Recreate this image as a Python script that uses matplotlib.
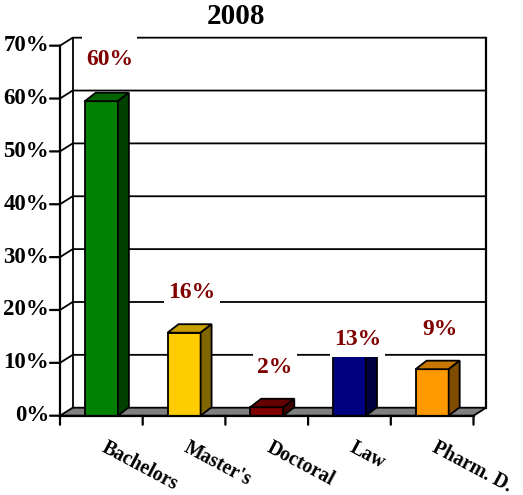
import matplotlib
matplotlib.use("Agg")
import matplotlib.pyplot as plt
from matplotlib.patches import Polygon
from matplotlib.path import Path
import matplotlib.transforms as mtrans
from functools import partial

# data
categories = ["Bachelors", "Master's", "Doctoral", "Law", "Pharm. D."]
values = [59.5, 15.7, 1.6, 13.0, 8.8]
value_labels = ["60%", "16%", "2%", "13%", "9%"]
label_offsets = [7.9, 7.7, 7.6, 1.4, 7.6]   # how far above the bar the label sits (in %)
label_pady = [0.62, 0.3, 0.3, 0.3, 0.3]
front_colors = ["#008000", "#FFCC00", "#800000", "#000080", "#FF9900"]
yticks = [0, 10, 20, 30, 40, 50, 60, 70]
title = "2008"

# layout params (pixels in a 523x495 picture)
W, H = 523, 495
px_x = 82.7        # px per category
px_y = 5.286       # px per 1 %
DX = 12.7 / px_x   # depth of the floor/back wall
DY = 8.0 / px_y
BDX = 11.0 / px_x  # depth of the bars
BDY = 8.5 / px_y
ymax = 70
ncat = len(categories)
font = "Liberation Serif"


def shade(hexcol, f):
    r, g, b = matplotlib.colors.to_rgb(hexcol)
    return (r * f, g * f, b * f)


# white label box with separate x / y padding
def label_box(x0, y0, width, height, mutation_size, padx=0.18, pady=0.3):
    px = padx * mutation_size
    py = pady * mutation_size
    x0, y0 = x0 - px, y0 - py
    x1, y1 = x0 + width + 2 * px, y0 + height + 2 * py
    return Path([(x0, y0), (x1, y0), (x1, y1), (x0, y1), (x0, y0)], closed=True)


fig = plt.figure(figsize=(W / 100, H / 100), dpi=100)
left = 60 / W
bottom = (H - 415.7) / H
ax = fig.add_axes([left, bottom, (ncat + DX) * px_x / W, (ymax + DY) * px_y / H])
ax.set_xlim(0, ncat + DX)
ax.set_ylim(0, ymax + DY)
ax.axis("off")

lw_grid = 1.3
lw_axis = 1.6

# back wall and side wall gridlines
for v in yticks[1:]:
    ax.plot([0, DX, ncat + DX], [v, v + DY, v + DY], color="black", lw=lw_grid,
            zorder=1, clip_on=False, solid_capstyle="butt")
ax.plot([DX, DX], [DY, ymax + DY], color="black", lw=lw_grid, zorder=1, clip_on=False)
ax.plot([ncat + DX, ncat + DX], [DY, ymax + DY], color="black", lw=lw_axis, zorder=1, clip_on=False)

# floor
floor = Polygon([(0, 0), (ncat, 0), (ncat + DX, DY), (DX, DY)], closed=True,
                facecolor="#808080", edgecolor="black", lw=lw_grid, zorder=2, clip_on=False)
ax.add_patch(floor)

# bars
bw = 0.4
for i, v in enumerate(values):
    x0 = i + 0.5 - bw / 2
    x1 = x0 + bw
    c = front_colors[i]
    front = Polygon([(x0, 0), (x1, 0), (x1, v), (x0, v)], closed=True,
                    facecolor=c, edgecolor="black", lw=1.3, zorder=3 + i * 0.1)
    top = Polygon([(x0, v), (x1, v), (x1 + BDX, v + BDY), (x0 + BDX, v + BDY)], closed=True,
                  facecolor=shade(c, 0.78), edgecolor="black", lw=1.3, zorder=3 + i * 0.1)
    side = Polygon([(x1, 0), (x1 + BDX, BDY), (x1 + BDX, v + BDY), (x1, v)], closed=True,
                   facecolor=shade(c, 0.5), edgecolor="black", lw=1.3, zorder=3 + i * 0.1)
    for p in (front, top, side):
        p.set_clip_on(False)
        ax.add_patch(p)

# value labels with white boxes
for i, v in enumerate(values):
    ax.text(i + 0.5 + BDX / 2 + 0.03, v + label_offsets[i], value_labels[i],
            ha="center", va="center",
            fontsize=17, fontweight="bold", family=font, color="#800000", zorder=8,
            bbox=dict(facecolor="white", edgecolor="none",
                      boxstyle=partial(label_box, pady=label_pady[i])))

# front axes
ax.plot([0, 0], [0, ymax], color="black", lw=lw_axis, zorder=9, clip_on=False)
ax.plot([0, ncat], [0, 0], color="black", lw=lw_axis, zorder=9, clip_on=False)

pt = 0.72  # one pixel in points at dpi 100
for v in yticks:
    ax.annotate("", xy=(0, v), xytext=(-10, 0), textcoords="offset pixels",
                arrowprops=dict(arrowstyle="-", lw=lw_axis, color="black",
                                shrinkA=0, shrinkB=0), annotation_clip=False, zorder=9)
    ax.text(0, v, f"{v}%", transform=mtrans.offset_copy(ax.transData, fig=fig, x=-11 * pt,
                                                         y=0, units="points"),
            ha="right", va="center", fontsize=16.5, fontweight="bold", family=font)

for i in range(ncat + 1):
    ax.annotate("", xy=(i, 0), xytext=(0, -9), textcoords="offset pixels",
                arrowprops=dict(arrowstyle="-", lw=lw_axis, color="black",
                                shrinkA=0, shrinkB=0), annotation_clip=False, zorder=9)

for i, name in enumerate(categories):
    ax.text(i + 0.5, 0, name, transform=mtrans.offset_copy(ax.transData, fig=fig, x=6 * pt,
                                                           y=-22 * pt, units="points"),
            rotation=-28, rotation_mode="anchor", ha="left", va="top",
            fontsize=14.2, fontweight="bold", family=font)

fig.text(236 / W, 1 - 17 / H, title, ha="center", va="center", fontsize=21,
         fontweight="bold", family=font)

fig.savefig("out.png", dpi=100)
